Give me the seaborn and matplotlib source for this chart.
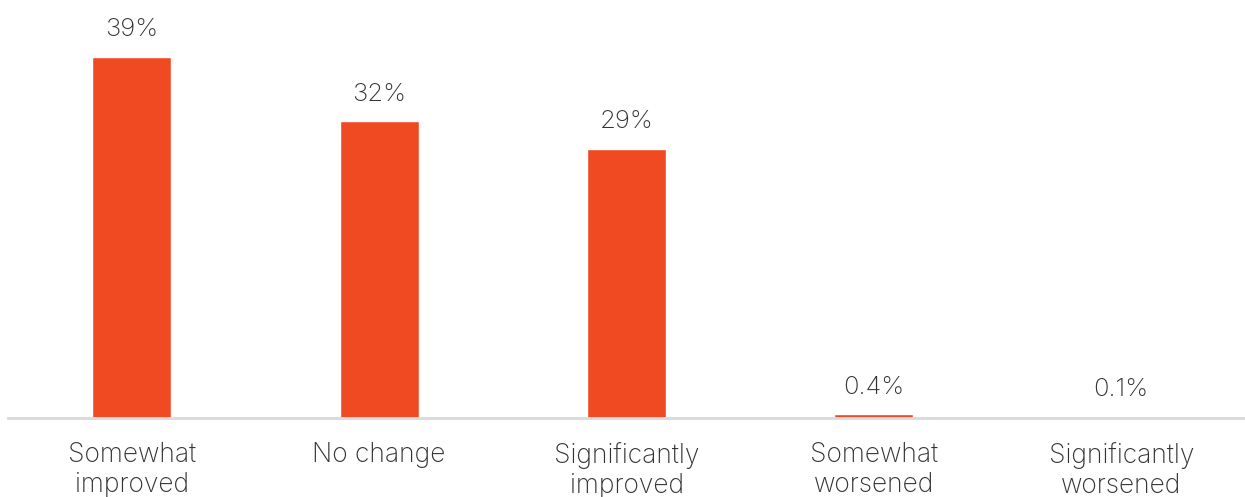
import matplotlib.pyplot as plt
import seaborn as sns
import pandas as pd

categories = ["Somewhat\nimproved", "No change", "Significantly\nimproved", "Somewhat\nworsened", "Significantly\nworsened"]
values = [39, 32, 29, 0.4, 0.1]
labels = ["39%", "32%", "29%", "0.4%", "0.1%"]

sns.set_style("white")
plt.rcParams['font.family'] = ['Inter', 'DejaVu Sans']
plt.rcParams['font.weight'] = 'light'

df = pd.DataFrame({"cat": categories, "val": values})

fig = plt.figure(figsize=(12.45, 4.97), dpi=100)
ax = fig.add_axes([8 / 1245, 79 / 497, 1 - 8 / 1245, 418 / 497])

sns.barplot(data=df, x="cat", y="val", color="#F04A23", saturation=1, width=0.32, ax=ax)

for i, (v, t) in enumerate(zip(values, labels)):
    ax.text(i, v + 1.7, t, ha="center", va="bottom", fontsize=18.5, color="#333333",
            fontweight="light")

ax.set_ylim(0, 45.1)
ax.set_xlim(-0.5, 4.5)
ax.set_xlabel("")
ax.set_ylabel("")
ax.set_yticks([])
ax.tick_params(axis="x", length=0, pad=17, labelsize=19, labelcolor="#333333")
for t in ax.get_xticklabels():
    t.set_fontweight("light")
for s in ["top", "left", "right"]:
    ax.spines[s].set_visible(False)
ax.spines["bottom"].set_color("#d9d9d9")
ax.spines["bottom"].set_linewidth(2)

plt.savefig("out.png", dpi=100)
